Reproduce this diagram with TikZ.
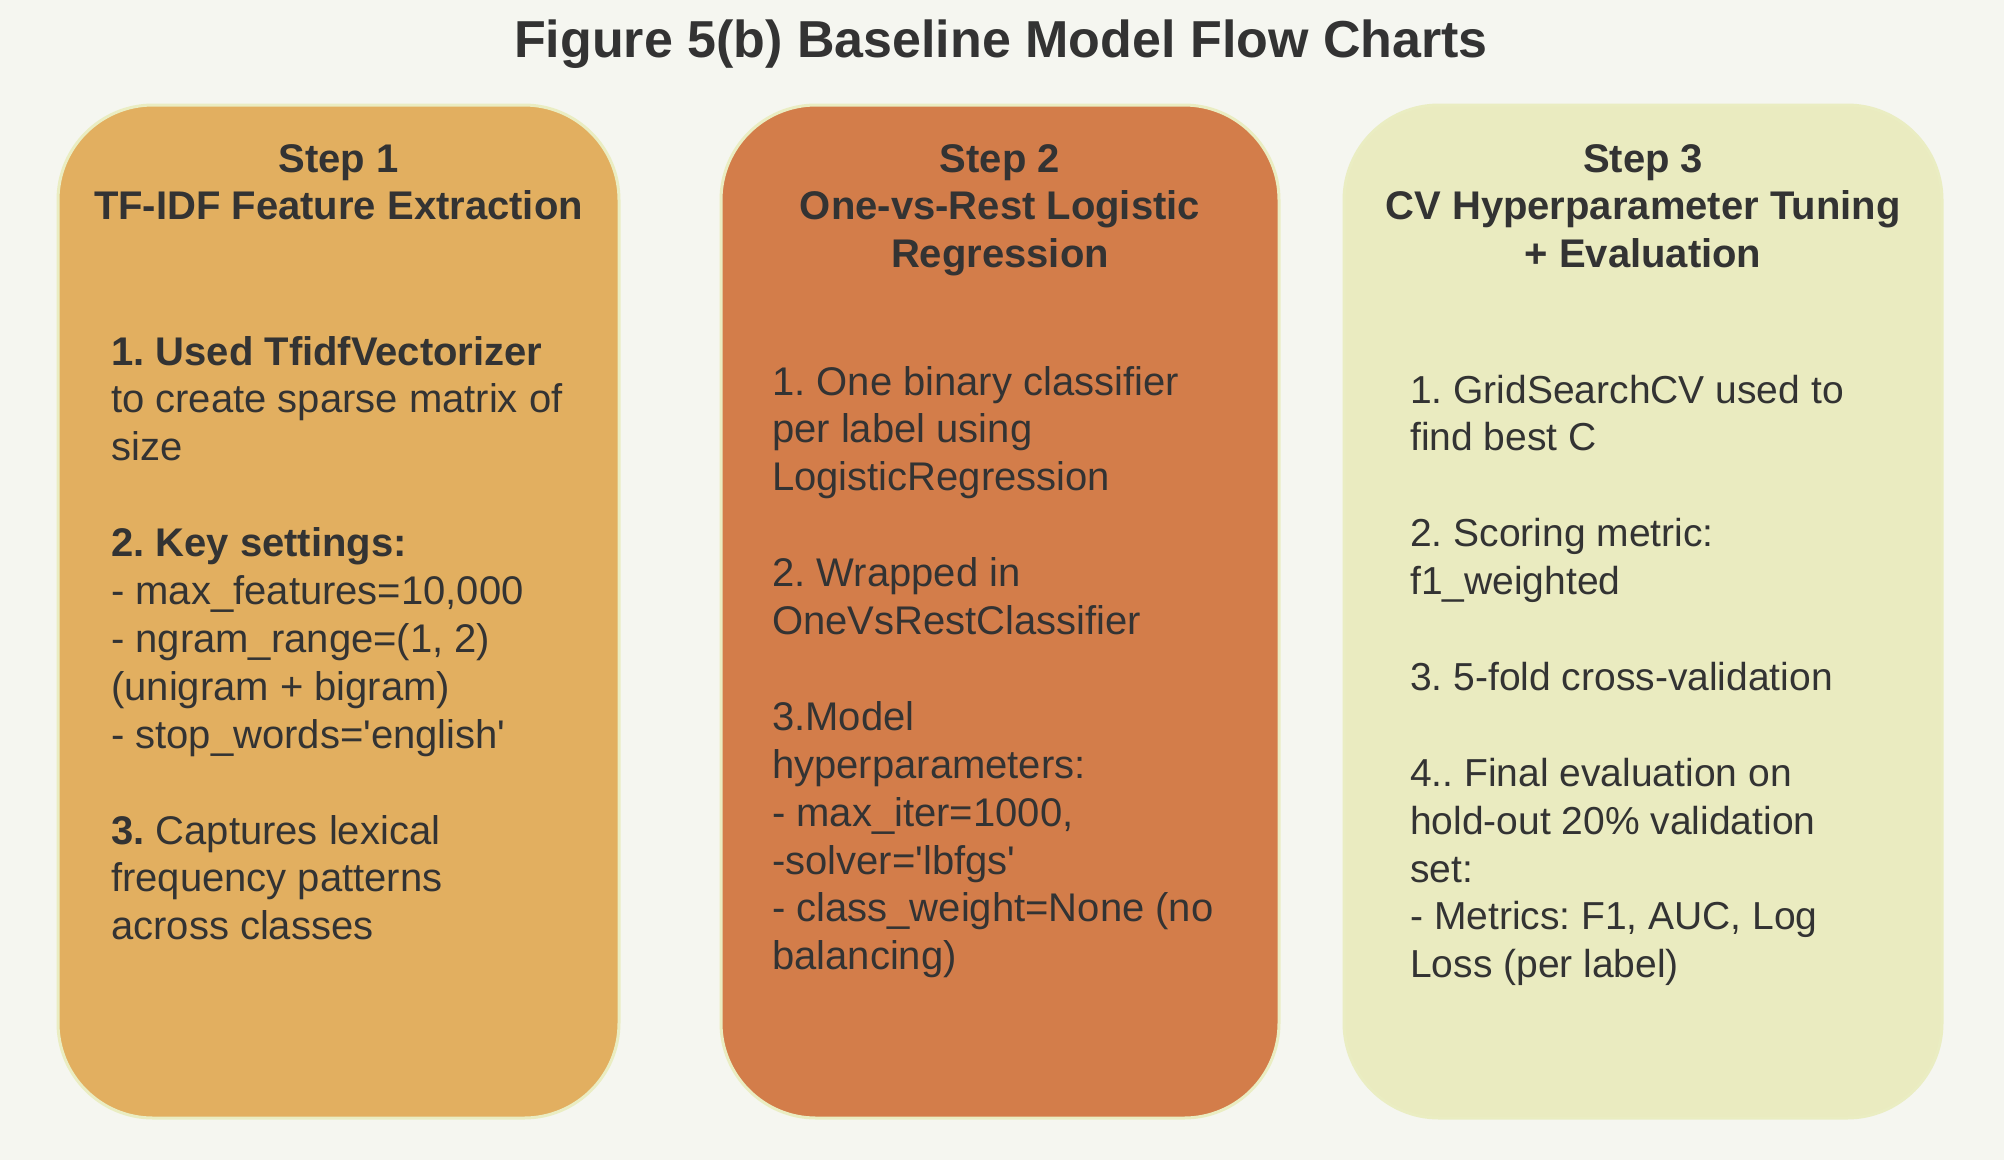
\documentclass[tikz,border=0pt]{standalone}
\usepackage{fontspec}
\newfontfamily\chartfont{Liberation Sans}
\frenchspacing
\definecolor{bgcol}{HTML}{F5F6F0}
\definecolor{stepone}{HTML}{E2AF60}
\definecolor{steptwo}{HTML}{D37D4A}
\definecolor{stepthree}{HTML}{EAEBC0}
\definecolor{edgecol}{HTML}{EAEDC2}
\definecolor{inkcol}{HTML}{333333}

\begin{document}
\begin{tikzpicture}[x=1pt,y=-1pt,
    stepbox/.style={draw=edgecol,line width=3pt,rounded corners=95pt},
    headtext/.style={anchor=base,inner sep=0pt,text=inkcol,font=\chartfont\bfseries\fontsize{40}{48}\selectfont\frenchspacing},
    bodytext/.style={anchor=base west,inner sep=0pt,text=inkcol,font=\chartfont\fontsize{40}{48}\selectfont\frenchspacing}]
    \fill [bgcol] (0,0) rectangle (2004,1160);
    \useasboundingbox (0,0) rectangle (2004,1160);

    \node [headtext,font=\chartfont\bfseries\fontsize{52}{60}\selectfont] (title) at (1001,57) {Figure 5(b) Baseline Model Flow Charts};

    % the three steps
    \path [stepbox,fill=stepone]   (58,105)   rectangle (619,1118);
    \path [stepbox,fill=steptwo]   (721,105)  rectangle (1279,1118);
    \path [stepbox,fill=stepthree] (1344,105) rectangle (1942,1118);

    \node [headtext] (head1a) at (338.5,172)   {Step 1};
    \node [headtext] (head1b) at (338.5,219.5) {TF-IDF Feature Extraction};
    \node [headtext] (head2a) at (1000,172)    {Step 2};
    \node [headtext] (head2b) at (1000,219.5)  {One-vs-Rest Logistic};
    \node [headtext] (head2c) at (1000,267)    {Regression};
    \node [headtext] (head3a) at (1643,172)    {Step 3};
    \node [headtext] (head3b) at (1643,219.5)  {CV Hyperparameter Tuning};
    \node [headtext] (head3c) at (1643,267)    {+ Evaluation};

    \foreach \n/\txt in {0/{\textbf{1. Used TfidfVectorizer}},1/{to create sparse matrix of},2/{size},
        4/{\textbf{2. Key settings:}},5/{- max\_features=10,000},6/{- ngram\_range=(1, 2)},
        7/{(unigram + bigram)},8/{- stop\_words='english'},
        10/{\textbf{3.} Captures lexical},11/{frequency patterns},12/{across classes}}{%
        \node [bodytext] (body1-\n) at (111,365+47.9*\n) {\txt};
    }
    \foreach \n/\txt in {0/{1. One binary classifier},1/{per label using},2/{LogisticRegression},
        4/{2. Wrapped in},5/{OneVsRestClassifier},
        7/{3.Model},8/{hyperparameters:},9/{- max\_iter=1000,},10/{-solver='lbfgs'},
        11/{- class\_weight=None (no},12/{balancing)}}{%
        \node [bodytext] (body2-\n) at (772,395+47.9*\n) {\txt};
    }
    \foreach \n/\txt in {0/{1. GridSearchCV used to},1/{find best C},
        3/{2. Scoring metric:},4/{f1\_weighted},
        6/{3. 5-fold cross-validation},
        8/{4.. Final evaluation on},9/{hold-out 20\% validation},10/{set:},
        11/{- Metrics: F1, AUC, Log},12/{Loss (per label)}}{%
        \node [bodytext,font=\chartfont\fontsize{39}{48}\selectfont\frenchspacing] (body3-\n) at (1410,403+47.9*\n) {\txt};
    }
\end{tikzpicture}
\end{document}
